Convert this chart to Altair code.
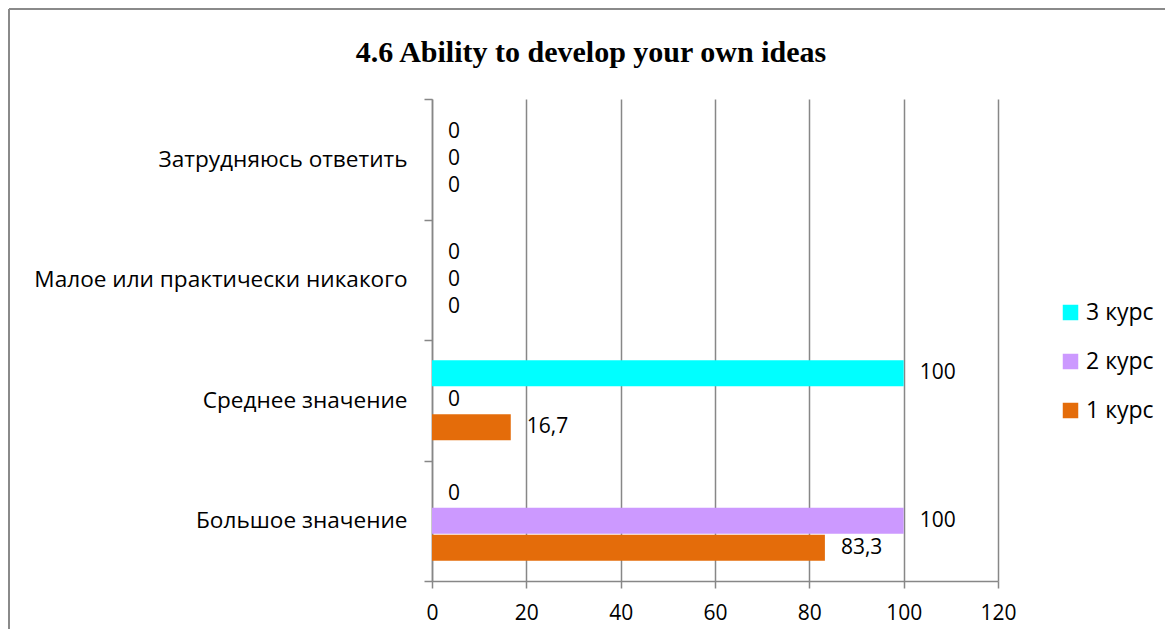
import altair as alt
import pandas as pd

categories = ["Затрудняюсь ответить", "Малое или практически никакого", "Среднее значение", "Большое значение"]
series = ["3 курс", "2 курс", "1 курс"]
colors = ["#00FFFF", "#CC99FF", "#E46C0A"]
values_3 = [0, 0, 100, 0]
values_2 = [0, 0, 0, 100]
values_1 = [0, 0, 16.7, 83.3]
x_ticks = [0, 20, 40, 60, 80, 100, 120]

rows = []
for s, vals in zip(series, [values_3, values_2, values_1]):
    for c, v in zip(categories, vals):
        lab = ("%g" % v).replace(".", ",")
        rows.append({"category": c, "series": s, "value": v, "label": lab})
df = pd.DataFrame(rows)

FONT = "Open Sans"
GRAY = "#878787"

y_enc = alt.Y("category:N", sort=categories,
              scale=alt.Scale(paddingInner=0, paddingOuter=0),
              axis=alt.Axis(title=None, tickBand="extent", labelFontSize=22.6, labelFont=FONT,
                            labelColor="black", tickSize=8, labelPadding=17, labelLimit=0,
                            domainColor=GRAY, tickColor=GRAY, domainWidth=1.5, tickWidth=1.5,
                            grid=False))
yoff_enc = alt.YOffset("series:N", sort=series,
                       scale=alt.Scale(paddingInner=0.03, paddingOuter=0.75))
x_enc = alt.X("value:Q", scale=alt.Scale(domain=[0, 120]),
              axis=alt.Axis(title=None, values=x_ticks, grid=True, gridColor=GRAY, gridWidth=1.5,
                            tickSize=7, labelPadding=14, labelFontSize=21, labelFont=FONT,
                            labelColor="black", labelFlush=False,
                            domainColor=GRAY, tickColor=GRAY, domainWidth=1.5, tickWidth=1.5))

bars = alt.Chart(df).mark_bar().encode(
    x=x_enc, y=y_enc, yOffset=yoff_enc,
    color=alt.Color("series:N", sort=series,
                    scale=alt.Scale(domain=series, range=colors),
                    legend=alt.Legend(orient="none", legendX=627, legendY=202, title=None,
                                      symbolType="square", symbolSize=240, symbolStrokeWidth=0,
                                      labelFontSize=23, labelFont=FONT, labelColor="black",
                                      rowPadding=25, labelOffset=4, padding=0)),
)

texts = alt.Chart(df).mark_text(align="left", baseline="middle", dx=16, fontSize=21,
                                font=FONT, color="black").encode(
    x="value:Q", y=alt.Y("category:N", sort=categories), yOffset=alt.YOffset("series:N", sort=series),
    text="label:N",
)

frame_data = alt.Data(values=[{"f": 1}])
frame_left = alt.Chart(frame_data).mark_rule(color="#8a8a8a", strokeWidth=2).encode(
    x=alt.value(-423), y=alt.value(-90), y2=alt.value(530))
frame_top = alt.Chart(frame_data).mark_rule(color="#8a8a8a", strokeWidth=2).encode(
    x=alt.value(-423), x2=alt.value(733), y=alt.value(-90))

chart = alt.layer(frame_left, frame_top, bars, texts).properties(
    width=566, height=482, padding=0,
    title=alt.TitleParams("4.6 Ability to develop your own ideas", font="Liberation Serif",
                          fontSize=30, fontWeight="bold", anchor="middle", frame="group",
                          dx=-124, offset=-60, color="black"),
).configure_view(stroke=None)

chart.save("out.html", embed_options={"renderer": "svg", "actions": False})
